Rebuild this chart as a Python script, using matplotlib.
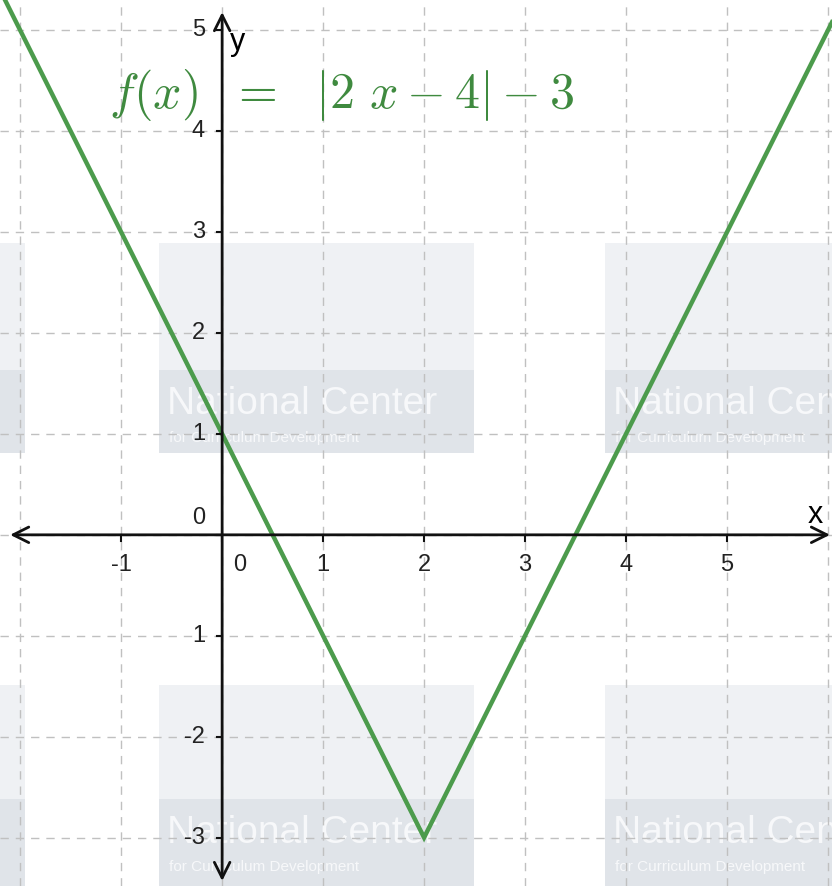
import numpy as np
import matplotlib.pyplot as plt
from matplotlib.patches import Rectangle

# view window and graph data
x_min, x_max = -2.2, 6.04
y_min, y_max = -3.48, 5.3
line_x = [-2.2, 2.0, 6.04]
line_y = [abs(2 * v - 4) - 3 for v in line_x]   # f(x) = |2x-4| - 3 at the drawn corners

x_ticks = [-1, 0, 1, 2, 3, 4, 5]
x_tick_labels = ['-1', '0', '1', '2', '3', '4', '5']
y_ticks = [-3, -2, -1, 0, 1, 2, 3, 4, 5]
y_tick_labels = ['-3', '-2', '1', '0', '1', '2', '3', '4', '5']

green_line = '#4c9b4c'
green_text = '#3f8a3f'

plt.rcParams['font.family'] = ['Liberation Sans', 'DejaVu Sans']
plt.rcParams['mathtext.fontset'] = 'cm'

fig = plt.figure(figsize=(8.32, 8.86), dpi=100)
ax = fig.add_axes([0, 0, 1, 1])
ax.set_xlim(x_min, x_max); ax.set_ylim(y_min, y_max)
ax.axis('off')

# watermark blocks (faint background boxes)
wm_face = '#eff1f4'; wm_band = '#e0e4e9'
for (x0, x1) in [(-0.63, 2.49), (3.79, 6.2), (-2.3, -1.95)]:
    for (y0, y1, yb) in [(0.81, 2.89, 1.63), (-3.6, -1.49, -2.62)]:
        ax.add_patch(Rectangle((x0, y0), x1 - x0, y1 - y0, fc=wm_face, ec='none', zorder=0))
        ax.add_patch(Rectangle((x0, y0), x1 - x0, yb - y0, fc=wm_band, ec='none', zorder=0))
        if x1 - x0 > 1:
            ax.text(x0 + 0.08, yb - 0.33, 'National Center', color='#f7f8fa', fontsize=28,
                    va='center', ha='left', zorder=0.5, clip_on=True)
            ax.text(x0 + 0.1, yb - 0.67, 'for Curriculum Development', color='#f7f8fa', fontsize=11,
                    va='center', ha='left', zorder=0.5, clip_on=True)

# dashed grid
for gx in range(-2, 7):
    ax.axvline(gx, color='#c0c0c0', ls=(0, (6, 5)), lw=1, zorder=1)
for gy in range(-3, 6):
    ax.axhline(gy, color='#c0c0c0', ls=(0, (6, 5)), lw=1, zorder=1)

# axes with arrows
arrow = dict(arrowstyle='<->', lw=2, color='#111111', mutation_scale=28, shrinkA=0, shrinkB=0)
ax.annotate('', xy=(x_max - 0.02, 0), xytext=(x_min + 0.1, 0), arrowprops=arrow, zorder=3)
ax.annotate('', xy=(0, y_max - 0.12), xytext=(0, y_min + 0.05), arrowprops=arrow, zorder=3)

for xt, lab in zip(x_ticks, x_tick_labels):
    ax.plot([xt, xt], [0, -0.06], color='#111111', lw=1.5, zorder=3)
    xpos = xt + 0.17 if xt == 0 else xt
    ax.text(xpos, -0.3, lab, ha='center', va='center', fontsize=17, color='#222222', zorder=4)
for yt, lab in zip(y_ticks, y_tick_labels):
    ax.plot([-0.05, 0], [yt, yt], color='#111111', lw=1.5, zorder=3)
    ypos = yt + 0.17 if yt == 0 else yt
    ax.text(-0.17, ypos, lab, ha='right', va='center', fontsize=17, color='#222222', zorder=4)

ax.text(5.87, 0.2, 'x', fontsize=22, ha='center', va='center', zorder=4)
ax.text(0.15, 4.88, 'y', fontsize=22, ha='center', va='center', zorder=4)

# function graph
ax.plot(line_x, line_y, color=green_line, lw=3.2, zorder=2, solid_joinstyle='miter')

ax.text(-1.12, 4.36, r'$f(x)\ \ =\ \ |2\ x-4|-3$', color=green_text, fontsize=36,
        ha='left', va='center', zorder=4)

plt.savefig('out.png', dpi=100)
